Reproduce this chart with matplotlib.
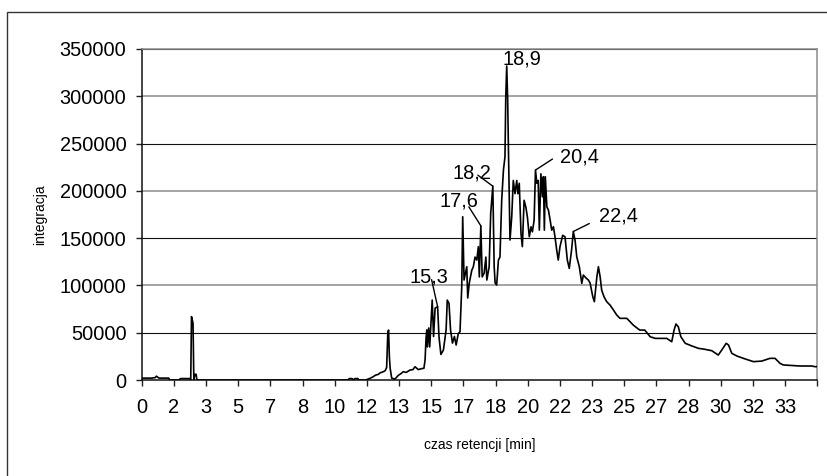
import numpy as np
import matplotlib.pyplot as plt
from matplotlib.patches import Rectangle

plt.rcParams['font.family'] = ['Liberation Sans', 'DejaVu Sans']

# retention time [min] and signal
czas = [0.0, 0.5, 0.7, 0.76, 0.9, 1.4, 1.45, 1.95, 2.0, 2.5, 2.54,
        2.58, 2.66, 2.70, 2.76, 2.82, 2.86,
        10.7, 10.75, 10.9, 10.95, 11.05, 11.2, 11.25, 11.6,
        11.8, 12.0, 12.1, 12.26, 12.35, 12.52, 12.62, 12.69, 12.75, 12.79,
        12.83, 12.87, 12.95, 13.12, 13.3, 13.45, 13.55, 13.7, 13.9, 14.05,
        14.16, 14.33, 14.5, 14.62, 14.68, 14.73, 14.77, 14.80, 14.87, 14.92,
        15.05, 15.12, 15.20, 15.33, 15.40, 15.50, 15.63, 15.77, 15.83, 15.92,
        16.0, 16.1, 16.2, 16.29, 16.40, 16.49, 16.58, 16.63, 16.70, 16.84,
        16.89, 16.97, 17.10, 17.18, 17.27, 17.36, 17.44, 17.49, 17.57, 17.64,
        17.74, 17.83, 17.88, 18.0, 18.08, 18.19, 18.26, 18.31, 18.39, 18.48,
        18.56, 18.65, 18.74, 18.82, 18.86, 18.91, 18.96, 19.0, 19.08, 19.17,
        19.25, 19.34, 19.43, 19.49, 19.56, 19.65, 19.72, 19.81, 19.90, 19.98,
        20.08, 20.17, 20.24, 20.33, 20.40, 20.47, 20.54, 20.60, 20.68, 20.76,
        20.81, 20.86, 20.91, 20.99, 21.07, 21.16, 21.24, 21.33, 21.41, 21.50,
        21.58, 21.67, 21.81, 21.93, 22.05, 22.15, 22.27, 22.36, 22.45, 22.54,
        22.67, 22.80, 22.88, 23.02, 23.14, 23.23, 23.37, 23.45, 23.58, 23.66,
        23.75, 23.83, 23.95, 24.09, 24.26, 24.44, 24.61, 24.78, 25.13, 25.47,
        25.80, 26.06, 26.34, 26.60, 26.85, 27.2, 27.46, 27.58, 27.68, 27.80,
        27.93, 28.16, 28.5, 28.84, 29.19, 29.53, 29.87, 30.05, 30.28, 30.40,
        30.57, 30.83, 31.17, 31.69, 32.12, 32.55, 32.81, 33.07, 33.24, 34.10,
        34.71, 34.88, 35.0]
integracja = [2000, 2000, 2500, 4000, 2000, 2000, 0, 0, 1500, 1500, 0,
              67000, 60000, 0, 6000, 6000, 0,
              0, 1500, 1500, 0, 1500, 1500, 0, 0,
              1500, 3500, 5000, 6000, 7500, 8800, 10000, 13400, 50000, 52800,
              25000, 12700, 2000, 1000, 5000, 7000, 8800, 8000, 10500, 11000,
              14000, 11000, 12000, 12400, 21000, 44000, 53000, 35000, 55000, 35000,
              84500, 46000, 76000, 77500, 46000, 27000, 31700, 53000, 84500, 81000,
              53000, 39000, 46000, 37000, 49000, 51000, 98600, 172600, 105700, 119800,
              86700, 102500, 116000, 119800, 130000, 126800, 141000, 109000, 163000, 109000,
              113000, 130000, 105700, 119800, 176000, 205000, 119800, 102500, 100400, 126800,
              130000, 190000, 222000, 236000, 299000, 332000, 296000, 243000, 148000, 172600,
              211000, 197000, 211000, 197000, 208000, 155000, 141000, 190000, 183000, 172600,
              151500, 162000, 156700, 169000, 222000, 208000, 211000, 158500, 218000, 193700,
              215000, 158500, 215000, 183000, 179700, 169000, 158500, 162000, 151500, 137400,
              126800, 141000, 153000, 151500, 126800, 118000, 137400, 157000, 148000, 130000,
              119800, 102200, 111000, 107800, 105700, 102500, 88000, 82800, 109000, 119800,
              109000, 95000, 88000, 82800, 79300, 74000, 68700, 65200, 65200, 58000,
              52800, 52800, 45800, 44000, 44000, 44000, 40500, 52800, 59200, 56300,
              45800, 38800, 36000, 33500, 32400, 31000, 26400, 31700, 38800, 37000,
              28200, 25400, 22900, 19400, 20000, 22900, 22900, 17600, 15900, 14800,
              14800, 14100, 14100]

x_tick_labels = ['0', '2', '3', '5', '7', '8', '10', '12', '13', '15', '17',
                 '18', '20', '22', '23', '25', '27', '28', '30', '32', '33']
y_ticks = [0, 50000, 100000, 150000, 200000, 250000, 300000, 350000]

# labelled peaks: label, retention time
peaks = [('15,3', 15.33), ('17,6', 17.57), ('18,2', 18.19),
         ('18,9', 18.91), ('20,4', 20.40), ('22,4', 22.36)]
# text offset, horizontal alignment, leader start offset (pixels from peak)
label_pos = {
    '15,3': ((-28, 24), 'left', (-6, 27)),
    '17,6': ((-41, 19), 'left', (-12, 19)),
    '18,2': ((-1, 8), 'right', (-15, 11)),
    '18,9': ((-4, 2), 'left', None),
    '20,4': ((25, 8), 'left', (17, 11)),
    '22,4': ((26, 10), 'left', (16, 8)),
}

fig = plt.figure(figsize=(8.27, 4.76), dpi=100, facecolor='white')
ax = fig.add_axes([141.7/827, 1-380/476, (817.3-141.7)/827, (380-49)/476])

# outer chart frame
fig.add_artist(Rectangle((7.3/827, -0.1), 1.2, 1.1 - 11.7/476,
                         transform=fig.transFigure, fill=False,
                         edgecolor='#333333', lw=1.0))

ax.plot(czas, integracja, color='black', lw=1.2, zorder=3)

ax.set_xlim(0, 35)
ax.set_ylim(0, 350000)
ax.set_yticks(y_ticks)
ax.set_yticklabels([str(v) for v in y_ticks])
ax.set_xticks(np.arange(22) * 5 / 3)
ax.set_xticklabels(x_tick_labels + [''])
ax.tick_params(axis='both', labelsize=14.4, direction='out', length=4.3,
               width=1.0, color='#222222')
ax.tick_params(axis='y', pad=6.7)
ax.tick_params(axis='x', pad=8.5)

for v in y_ticks[1:]:
    k = v // 50000
    if k % 2 == 1:
        ax.axhline(v, color='#111111', lw=0.8, zorder=1)
    else:
        ax.axhline(v, color='#8c8c8c', lw=1.1, zorder=1)

for s in ['top', 'right']:
    ax.spines[s].set_color('#8c8c8c')
    ax.spines[s].set_linewidth(1.1)
ax.spines['left'].set_color('#111111')
ax.spines['bottom'].set_color('#111111')
ax.spines['left'].set_linewidth(1.1)
ax.spines['bottom'].set_linewidth(1.1)

for lab, t in peaks:
    v = np.interp(t, czas, integracja)
    (tx, ty), ha, lead = label_pos[lab]
    ax.annotate(lab, xy=(t, v), xytext=(tx, ty), textcoords='offset pixels',
                ha=ha, va='baseline', fontsize=14.4, zorder=4)
    if lead is not None:
        ax.annotate('', xy=(t, v), xytext=lead, textcoords='offset pixels',
                    arrowprops=dict(arrowstyle='-', color='black', lw=1.0,
                                    shrinkA=0, shrinkB=0))

fig.text(479.7/827, 1-445/476, 'czas retencji [min]', ha='center',
         va='center', fontsize=10)
fig.text(40/827, 1-214.5/476, 'integracja', ha='center', va='center',
         rotation=90, fontsize=10)

plt.savefig('out.png', dpi=100, facecolor='white')
